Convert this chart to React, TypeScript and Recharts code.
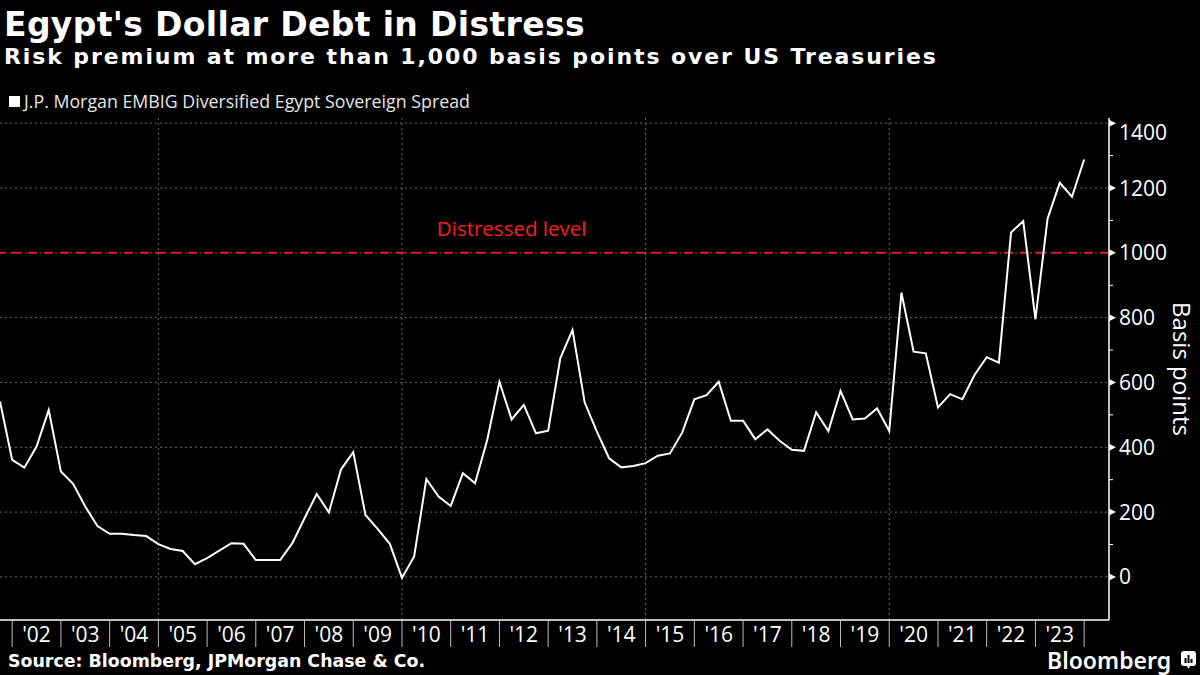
import { LineChart, Line, XAxis, YAxis, CartesianGrid, ReferenceLine, ReferenceDot } from 'recharts';

// quarter-end observations, Q3 2001 .. Q4 2023
const quarters = [
	'2001Q3', '2001Q4',
	'2002Q1', '2002Q2', '2002Q3', '2002Q4',
	'2003Q1', '2003Q2', '2003Q3', '2003Q4',
	'2004Q1', '2004Q2', '2004Q3', '2004Q4',
	'2005Q1', '2005Q2', '2005Q3', '2005Q4',
	'2006Q1', '2006Q2', '2006Q3', '2006Q4',
	'2007Q1', '2007Q2', '2007Q3', '2007Q4',
	'2008Q1', '2008Q2', '2008Q3', '2008Q4',
	'2009Q1', '2009Q2', '2009Q3', '2009Q4',
	'2010Q1', '2010Q2', '2010Q3', '2010Q4',
	'2011Q1', '2011Q2', '2011Q3', '2011Q4',
	'2012Q1', '2012Q2', '2012Q3', '2012Q4',
	'2013Q1', '2013Q2', '2013Q3', '2013Q4',
	'2014Q1', '2014Q2', '2014Q3', '2014Q4',
	'2015Q1', '2015Q2', '2015Q3', '2015Q4',
	'2016Q1', '2016Q2', '2016Q3', '2016Q4',
	'2017Q1', '2017Q2', '2017Q3', '2017Q4',
	'2018Q1', '2018Q2', '2018Q3', '2018Q4',
	'2019Q1', '2019Q2', '2019Q3', '2019Q4',
	'2020Q1', '2020Q2', '2020Q3', '2020Q4',
	'2021Q1', '2021Q2', '2021Q3', '2021Q4',
	'2022Q1', '2022Q2', '2022Q3', '2022Q4',
	'2023Q1', '2023Q2', '2023Q3', '2023Q4',
];

// J.P. Morgan EMBIG Diversified Egypt spread, basis points
const spread = [
	541, 361,
	337, 402, 515, 325,
	287, 217, 157, 133,
	133, 129, 126, 101,
	86, 80, 39, 58,
	81, 104, 102, 52,
	52, 52, 104, 181,
	256, 199, 332, 385,
	191, 148, 102, -3,
	63, 302, 248, 219,
	320, 289, 423, 602,
	486, 531, 443, 451,
	675, 762, 538, 448,
	366, 338, 342, 351,
	374, 381, 445, 548,
	561, 602, 482, 482,
	425, 455, 420, 392,
	389, 508, 450, 574,
	486, 489, 520, 450,
	877, 695, 690, 523,
	564, 548, 623, 678,
	661, 1063, 1098, 795,
	1106, 1216, 1173, 1288,
];

const yearLabels = ["'02", "'03", "'04", "'05", "'06", "'07", "'08", "'09", "'10", "'11", "'12",
	"'13", "'14", "'15", "'16", "'17", "'18", "'19", "'20", "'21", "'22", "'23"];
const yearStarts = [2002, 2003, 2004, 2005, 2006, 2007, 2008, 2009, 2010, 2011, 2012, 2013,
	2014, 2015, 2016, 2017, 2018, 2019, 2020, 2021, 2022, 2023, 2024];
const gridYears = [2005, 2010, 2015, 2020];
const yTicks = [0, 100, 200, 300, 400, 500, 600, 700, 800, 900, 1000, 1100, 1200, 1300, 1400];
const yGrid = [0, 200, 400, 600, 800, 1000, 1200, 1400];
const distressed = 1000;

const toYear = (q: string) => Number(q.slice(0, 4)) + Number(q.slice(5)) / 4;
const data = quarters.map((q, i) => ({ t: toYear(q), spread: spread[i] }));

// separators at year starts, labels at mid-year
const xTicks = [...yearStarts, ...yearStarts.slice(0, -1).map((y) => y + 0.5)].sort((a, b) => a - b);
const labelFor = (v: number) => yearLabels[Math.floor(v) - 2002];

const axisFont = '"Open Sans", sans-serif';
const headFont = '"DejaVu Sans", sans-serif';

const XTick = (props: any) => {
	const { x, y, payload } = props;
	const v = payload.value as number;
	if (Number.isInteger(v)) {
		return <line x1={x} x2={x} y1={y} y2={y + 27} stroke='#bdbdbd' strokeWidth={1} />;
	}
	return (
		<text x={x} y={y + 22} textAnchor='middle' fill='#fff' fontSize={21} fontFamily={axisFont}>
			{labelFor(v)}
		</text>
	);
};

const YTick = (props: any) => {
	const { x, y, payload } = props;
	const v = payload.value as number;
	if (v % 200 !== 0) {
		return <line x1={x} x2={x + 4} y1={y} y2={y} stroke='#fff' strokeWidth={1} />;
	}
	const shift = v === 1400 ? 9 : 0;
	return (
		<g>
			<path d={`M${x},${y - 3.5} L${x + 7},${y} L${x},${y + 3.5} Z`} fill='#fff' />
			<text x={x + 10} y={y + shift} dy='0.36em' fill='#fff' fontSize={21} fontFamily={axisFont}>
				{v}
			</text>
		</g>
	);
};

export default function App() {
	return (
		<div style={{ position: 'fixed', left: 0, top: 0, width: 1200, height: 675, background: '#000', overflow: 'hidden' }}>
			<div style={{ position: 'absolute', left: 0, top: 0 }}>
				<LineChart width={1200} height={675} data={data} margin={{ top: 118, right: 0, bottom: 0, left: 0 }}>
					<CartesianGrid
						stroke='#6a6a6a'
						strokeDasharray='2 3'
						horizontalValues={yGrid}
						verticalValues={gridYears}
					/>
					<XAxis
						dataKey='t'
						type='number'
						domain={[2001.75, 2024.51]}
						ticks={xTicks}
						interval={0}
						tickSize={0}
						tickMargin={0}
						tickLine={false}
						height={55}
						axisLine={{ stroke: '#fff', strokeWidth: 1.5 }}
						tick={<XTick />}
					/>
					<YAxis
						orientation='right'
						type='number'
						domain={[-133, 1416]}
						ticks={yTicks}
						interval={0}
						tickSize={0}
						tickMargin={0}
						tickLine={false}
						width={91}
						axisLine={{ stroke: '#fff', strokeWidth: 1.5 }}
						tick={<YTick />}
						label={{
							value: 'Basis points',
							angle: 90,
							position: 'center',
							dx: 27,
							fill: '#fff',
							fontSize: 24,
							fontFamily: axisFont,
						}}
					/>
					<ReferenceLine y={distressed} stroke='#dc1a3c' strokeWidth={2} strokeDasharray='9 7' />
					<ReferenceDot
						x={2012.25}
						y={distressed}
						r={0}
						stroke='none'
						fill='none'
						label={{ value: 'Distressed level', position: 'top', offset: 17, fill: '#ff1a1a', fontSize: 20.5, fontFamily: axisFont }}
					/>
					<Line
						type='linear'
						dataKey='spread'
						stroke='#fff'
						strokeWidth={2}
						dot={false}
						isAnimationActive={false}
					/>
				</LineChart>
			</div>
			<div style={{ position: 'absolute', left: 4, top: 8, color: '#fff', fontFamily: headFont, fontWeight: 700, fontSize: 33, letterSpacing: 0.35, lineHeight: '33px', whiteSpace: 'nowrap' }}>
				Egypt's Dollar Debt in Distress
			</div>
			<div style={{ position: 'absolute', left: 4, top: 46, color: '#fff', fontFamily: headFont, fontWeight: 700, fontSize: 22, letterSpacing: 1.9, lineHeight: '22px', whiteSpace: 'nowrap' }}>
				Risk premium at more than 1,000 basis points over US Treasuries
			</div>
			<div style={{ position: 'absolute', left: 9, top: 89, display: 'flex', alignItems: 'center', color: '#e6e6e6', fontFamily: axisFont, fontSize: 17.8, lineHeight: '24px', whiteSpace: 'nowrap' }}>
				<span style={{ display: 'inline-block', width: 11, height: 11, background: '#fff', marginRight: 4 }} />
				J.P. Morgan EMBIG Diversified Egypt Sovereign Spread
			</div>
			<div style={{ position: 'absolute', left: 8, top: 651, color: '#fff', fontFamily: headFont, fontWeight: 700, fontSize: 17.4, lineHeight: '20px', whiteSpace: 'nowrap' }}>
				Source: Bloomberg, JPMorgan Chase &amp; Co.
			</div>
			<div style={{ position: 'absolute', left: 1047, top: 653, color: '#fff', fontFamily: '"Noto Sans", sans-serif', fontWeight: 600, fontSize: 23, lineHeight: '15px', whiteSpace: 'nowrap' }}>
				Bloomberg
			</div>
			<svg style={{ position: 'absolute', left: 1181, top: 651 }} width={16} height={20}>
				<rect x={0} y={0} width={15} height={15} rx={3} fill='#fff' />
				<path d='M6,15 L7.5,18 L9,15 Z' fill='#fff' />
				<rect x={3.5} y={7} width={2} height={5} fill='#000' />
				<rect x={6.5} y={4} width={2} height={8} fill='#000' />
				<rect x={9.5} y={8} width={2} height={4} fill='#000' />
			</svg>
		</div>
	);
}
